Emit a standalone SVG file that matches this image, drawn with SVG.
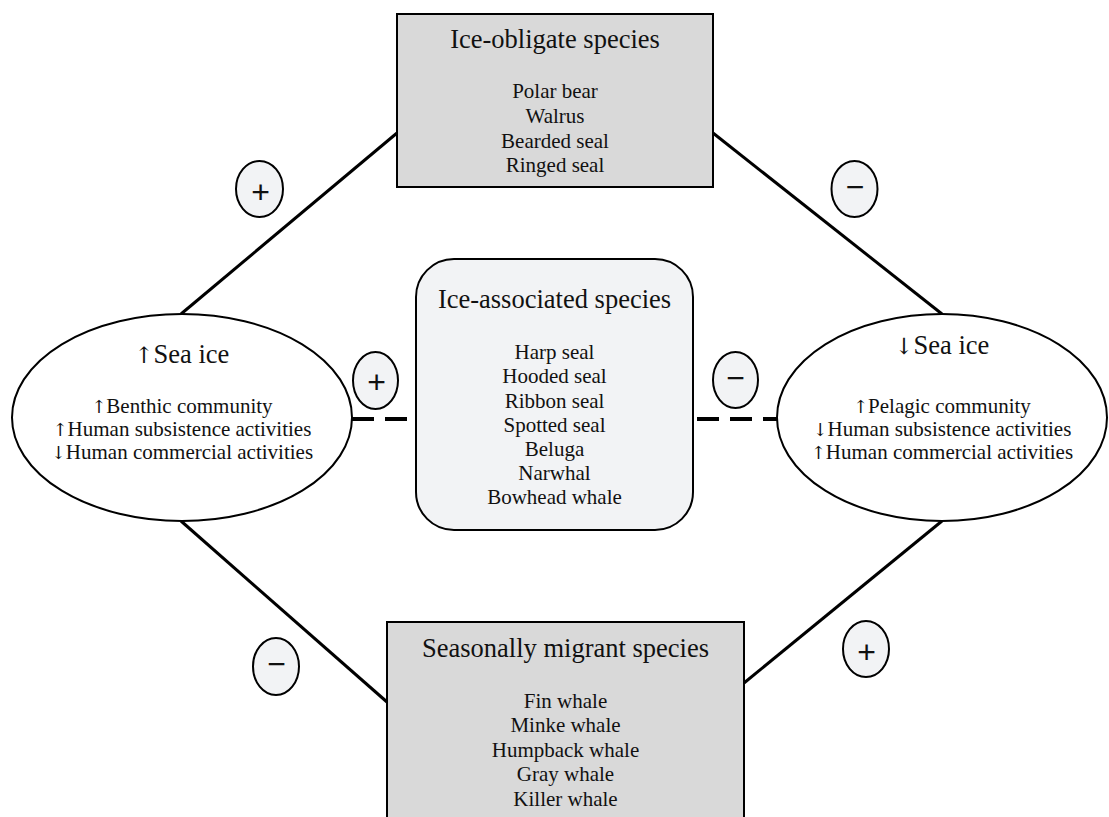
<svg xmlns="http://www.w3.org/2000/svg" width="1109" height="817" viewBox="0 0 1109 817">
  <style>
    .link { stroke: #000; stroke-width: 3; fill: none; }
    .dash { stroke: #000; stroke-width: 4; stroke-dasharray: 22 11; fill: none; }
    .box { fill: #d9d9d9; stroke: #000; stroke-width: 2; }
    .soft { fill: #f2f3f5; stroke: #000; stroke-width: 2; }
    .oval { fill: #fff; stroke: #000; stroke-width: 2; }
    .sign { fill: #f2f3f5; stroke: #000; stroke-width: 2; }
    text { font-family: "Liberation Serif", "DejaVu Serif", "Times New Roman", serif; fill: #111; text-anchor: middle; }
    .arrow { font-family: "DejaVu Serif", "DejaVu Sans", serif; font-size: 0.85em; }
    .title { font-size: 26.5px; }
    .item { font-size: 21px; }
    .mark { font-family: "Liberation Sans", Arial, sans-serif; font-size: 32px; }
  </style>
  <rect width="1109" height="817" fill="#fff"/>

  <!-- connectors -->
  <g id="connectors">
    <line class="link" x1="181" y1="314" x2="397" y2="133"/>
    <line class="link" x1="713" y1="133" x2="942" y2="314"/>
    <line class="link" x1="181" y1="521" x2="387" y2="702"/>
    <line class="link" x1="744" y1="683" x2="942" y2="521"/>
    <line class="dash" x1="352" y1="419" x2="416" y2="419"/>
    <line class="dash" x1="697" y1="419" x2="777" y2="419"/>
  </g>

  <!-- species groups -->
  <g id="ice-obligate">
    <rect class="box" x="397" y="14" width="316" height="173"/>
    <text class="title" x="555" y="48">Ice-obligate species</text>
    <text class="item" x="555" y="98">Polar bear</text>
    <text class="item" x="555" y="123">Walrus</text>
    <text class="item" x="555" y="148">Bearded seal</text>
    <text class="item" x="555" y="172">Ringed seal</text>
  </g>

  <g id="ice-associated">
    <rect class="soft" x="416" y="259" width="277" height="271" rx="38" ry="38"/>
    <text class="title" x="554.5" y="308">Ice-associated species</text>
    <text class="item" x="554.5" y="359">Harp seal</text>
    <text class="item" x="554.5" y="383">Hooded seal</text>
    <text class="item" x="554.5" y="408">Ribbon seal</text>
    <text class="item" x="554.5" y="432">Spotted seal</text>
    <text class="item" x="554.5" y="456">Beluga</text>
    <text class="item" x="554.5" y="480">Narwhal</text>
    <text class="item" x="554.5" y="504">Bowhead whale</text>
  </g>

  <g id="seasonally-migrant">
    <rect class="box" x="387" y="622" width="357" height="210"/>
    <text class="title" x="565.5" y="657">Seasonally migrant species</text>
    <text class="item" x="565.5" y="708">Fin whale</text>
    <text class="item" x="565.5" y="732">Minke whale</text>
    <text class="item" x="565.5" y="757">Humpback whale</text>
    <text class="item" x="565.5" y="781">Gray whale</text>
    <text class="item" x="565.5" y="806">Killer whale</text>
  </g>

  <!-- sea ice states -->
  <g id="more-sea-ice">
    <ellipse class="oval" cx="182" cy="417.5" rx="170" ry="103.5"/>
    <text class="title" x="182" y="363"><tspan class="arrow">↑</tspan>Sea ice</text>
    <text class="item" x="182" y="413"><tspan class="arrow">↑</tspan>Benthic community</text>
    <text class="item" x="182" y="436"><tspan class="arrow">↑</tspan>Human subsistence activities</text>
    <text class="item" x="182" y="459"><tspan class="arrow">↓</tspan>Human commercial activities</text>
  </g>

  <g id="less-sea-ice">
    <ellipse class="oval" cx="942" cy="417.5" rx="165" ry="103.5"/>
    <text class="title" x="942" y="354"><tspan class="arrow">↓</tspan>Sea ice</text>
    <text class="item" x="942" y="413"><tspan class="arrow">↑</tspan>Pelagic community</text>
    <text class="item" x="942" y="436"><tspan class="arrow">↓</tspan>Human subsistence activities</text>
    <text class="item" x="942" y="459"><tspan class="arrow">↑</tspan>Human commercial activities</text>
  </g>

  <!-- effect signs -->
  <g id="sign-top-left">
    <ellipse class="sign" cx="259.5" cy="189" rx="23.5" ry="28"/>
    <text class="mark" x="260.5" y="203">+</text>
  </g>
  <g id="sign-top-right">
    <ellipse class="sign" cx="854.5" cy="189" rx="23" ry="28"/>
    <text class="mark" x="855" y="198">−</text>
  </g>
  <g id="sign-mid-left">
    <ellipse class="sign" cx="375.5" cy="380.5" rx="22.5" ry="28.5"/>
    <text class="mark" x="376.5" y="393">+</text>
  </g>
  <g id="sign-mid-right">
    <ellipse class="sign" cx="735.5" cy="380" rx="22.5" ry="28"/>
    <text class="mark" x="735.5" y="389">−</text>
  </g>
  <g id="sign-bottom-left">
    <ellipse class="sign" cx="276" cy="666.5" rx="23" ry="28.5"/>
    <text class="mark" x="276.5" y="675">−</text>
  </g>
  <g id="sign-bottom-right">
    <ellipse class="sign" cx="866" cy="649" rx="23" ry="28"/>
    <text class="mark" x="866.5" y="663">+</text>
  </g>
</svg>
